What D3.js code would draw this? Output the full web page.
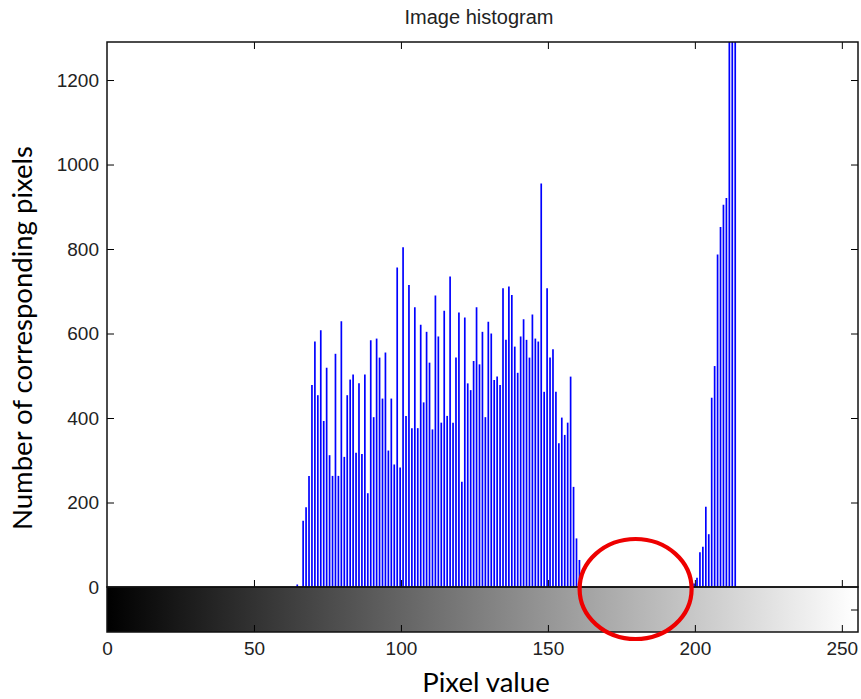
<!DOCTYPE html>
<html>
<head>
<meta charset="utf-8">
<script src="https://cdn.jsdelivr.net/npm/d3@7"></script>
<style>
  html, body { margin: 0; padding: 0; background: #fff; }
  svg { display: block; }
</style>
</head>
<body>
<svg id="chart" width="861" height="699"></svg>
<script>
// ---- data ----
const title = "Image histogram";
const xLabel = "Pixel value";
const yLabel = "Number of corresponding pixels";
const xTickValues = [0, 50, 100, 150, 200, 250];
const yTickValues = [0, 200, 400, 600, 800, 1000, 1200];

const pixelValues = [
  65,
  67, 68, 69, 70, 71, 72, 73, 74, 75, 76, 77, 78, 79, 80, 81, 82, 83,
  84, 85, 86, 87, 88, 89, 90, 91, 92, 93, 94, 95, 96, 97, 98, 99, 100, 101,
  102, 103, 104, 105, 106, 107, 108, 109, 110, 111, 112, 113, 114, 115, 116, 117, 118, 119, 120,
  121, 122, 123, 124, 125, 126, 127, 128, 129, 130, 131, 132, 133, 134, 135, 136, 137, 138, 139, 140,
  141, 142, 143, 144, 145, 146, 147, 148, 149, 150, 151, 152, 153, 154, 155, 156, 157, 158, 159, 160, 161,
  200, 201, 202, 203, 204, 205, 206, 207, 208, 209, 210, 211, 212, 213, 214
];
const pixelCounts = [
  6,
  157, 189, 263, 478, 581, 454, 608, 393, 519, 312, 263, 552, 263, 629, 308, 454, 491,
  503, 318, 482, 315, 503, 222, 584, 402, 588, 543, 446, 555, 323, 446, 290, 756, 283, 804,
  405, 715, 376, 662, 376, 621, 437, 604, 531, 373, 690, 593, 389, 654, 405, 735, 389, 543, 650,
  249, 638, 482, 466, 535, 662, 527, 604, 402, 628, 600, 490, 498, 478, 707, 585, 711, 691, 569, 507,
  593, 634, 585, 543, 645, 588, 581, 955, 462, 707, 543, 563, 462, 340, 401, 360, 389, 498, 237, 115, 64,
  8, 22, 82, 95, 190, 125, 448, 523, 787, 852, 905, 921, 1450, 1600, 1500
];
const highlightCenter = [179.5, 0];   // pixel value at the centre of the red ring

// ---- layout ----
const svg = d3.select("#chart");
const plotL = 107, plotR = 858, plotT = 42, histB = 587, barB = 632;
const tickFont = "'Liberation Sans Narrow', 'Liberation Sans', Arial, sans-serif";
const labelFont = "Lato, 'Open Sans', 'Noto Sans', sans-serif";

const x = d3.scaleLinear().domain([0, 255.5]).range([plotL, plotR]);
const y = d3.scaleLinear().domain([0, 1290]).range([histB, plotT]);

const defs = svg.append("defs");
defs.append("clipPath").attr("id", "plotClip")
  .append("rect").attr("x", plotL).attr("y", plotT).attr("width", plotR - plotL).attr("height", histB - plotT);

const grad = defs.append("linearGradient").attr("id", "grayGrad")
  .attr("gradientUnits", "userSpaceOnUse")
  .attr("x1", x(0)).attr("x2", x(255)).attr("y1", 0).attr("y2", 0);
grad.append("stop").attr("offset", "0%").attr("stop-color", "#000");
grad.append("stop").attr("offset", "100%").attr("stop-color", "#fff");

svg.append("rect").attr("x", plotL).attr("y", histB)
  .attr("width", plotR - plotL).attr("height", barB - histB)
  .attr("fill", "url(#grayGrad)");

// histogram stems
svg.append("g").attr("clip-path", "url(#plotClip)")
  .selectAll("line").data(pixelValues.map((v, i) => ({v, c: pixelCounts[i]})))
  .enter().append("line")
  .attr("x1", d => x(d.v) - 0.8).attr("x2", d => x(d.v) - 0.8)
  .attr("y1", y(0)).attr("y2", d => y(d.c))
  .attr("stroke", "#0000ff").attr("stroke-width", 1.7);

function styleAxis(g) {
  g.selectAll(".domain").remove();
  g.selectAll(".tick line").attr("stroke", "#000").attr("stroke-width", 1);
  g.selectAll(".tick text").attr("fill", "#222").style("font-family", tickFont).style("font-size", "19px");
}

svg.append("g").attr("transform", `translate(${plotL},0)`)
  .call(d3.axisLeft(y).tickValues(yTickValues).tickFormat(d3.format("d"))
    .tickSizeInner(-7).tickSizeOuter(0).tickPadding(8))
  .call(styleAxis);
svg.append("g").attr("transform", `translate(${plotR},0)`)
  .call(d3.axisRight(y).tickValues(yTickValues.slice(1)).tickSizeInner(-7).tickSizeOuter(0).tickFormat(""))
  .call(styleAxis);
svg.append("g").attr("transform", `translate(0,${plotT})`)
  .call(d3.axisTop(x).tickValues(xTickValues.slice(1)).tickSizeInner(-7).tickSizeOuter(0).tickFormat(""))
  .call(styleAxis);
svg.append("g").attr("transform", `translate(0,${histB})`)
  .call(d3.axisBottom(x).tickValues(xTickValues.slice(1)).tickSizeInner(-7).tickSizeOuter(0).tickFormat(""))
  .call(styleAxis);
svg.append("g").attr("transform", `translate(0,${barB})`)
  .call(d3.axisBottom(x).tickValues(xTickValues).tickFormat(d3.format("d"))
    .tickSizeInner(-7).tickSizeOuter(0).tickPadding(10))
  .call(styleAxis);
const yBar = d3.scaleLinear().domain([0, 1]).range([barB, histB]);
svg.append("g").attr("transform", `translate(${plotR},0)`)
  .call(d3.axisRight(yBar).tickValues([0.5]).tickSizeInner(-7).tickSizeOuter(0).tickFormat(""))
  .call(styleAxis);

svg.append("rect").attr("x", plotL).attr("y", plotT).attr("width", plotR - plotL).attr("height", histB - plotT)
  .attr("fill", "none").attr("stroke", "#111").attr("stroke-width", 1.5);
svg.append("rect").attr("x", plotL).attr("y", histB).attr("width", plotR - plotL).attr("height", barB - histB)
  .attr("fill", "none").attr("stroke", "#111").attr("stroke-width", 1.5);

svg.append("text").attr("x", 479).attr("y", 24)
  .attr("text-anchor", "middle").style("font-family", tickFont).style("font-size", "20px").attr("fill", "#222")
  .text(title);

svg.append("text").attr("x", 486).attr("y", 692)
  .attr("text-anchor", "middle").style("font-family", labelFont).style("font-size", "27.5px").attr("fill", "#000")
  .text(xLabel);
svg.append("text").attr("transform", "translate(32,338) rotate(-90)")
  .attr("text-anchor", "middle").style("font-family", labelFont).style("font-size", "27.5px").attr("fill", "#000")
  .text(yLabel);

svg.append("ellipse")
  .attr("cx", x(highlightCenter[0]) + 1).attr("cy", y(highlightCenter[1]) + 2)
  .attr("rx", 56).attr("ry", 50)
  .attr("fill", "none").attr("stroke", "#ee0000").attr("stroke-width", 4.2);
</script>
</body>
</html>
